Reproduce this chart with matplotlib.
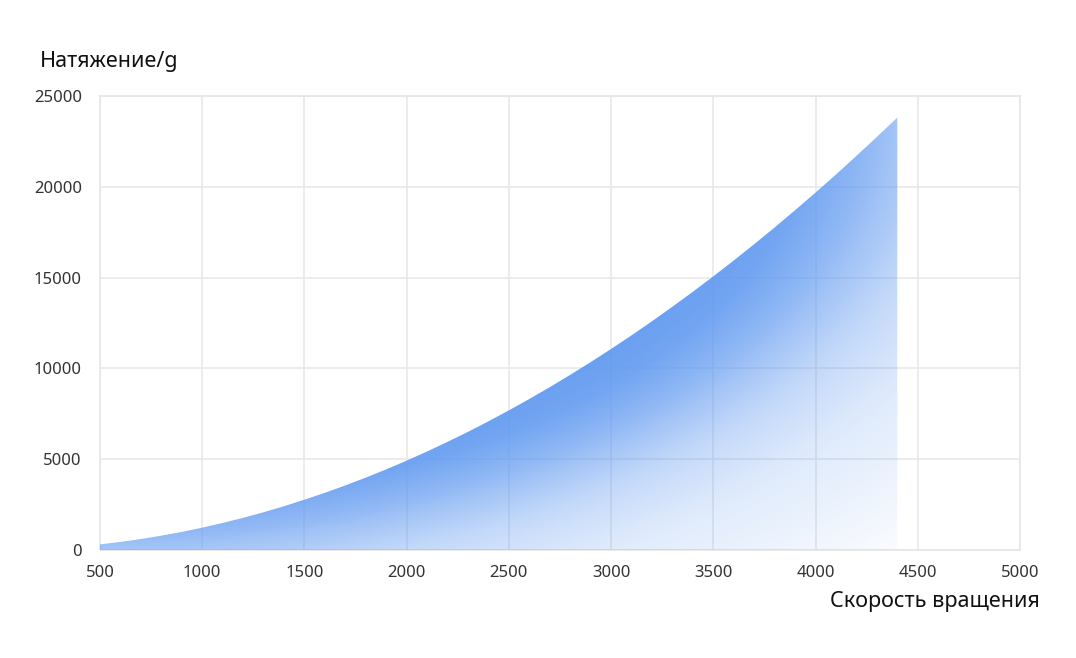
import numpy as np
import matplotlib.pyplot as plt

plt.rcParams['font.family'] = ['Noto Sans', 'DejaVu Sans']

# скорость вращения (об/мин) и натяжение (g)
speed = [500, 600, 700, 800, 900, 1000, 1100, 1200, 1300, 1400,
         1500, 1600, 1700, 1800, 1900, 2000, 2100, 2200, 2300, 2400,
         2500, 2600, 2700, 2800, 2900, 3000, 3100, 3200, 3300, 3400,
         3500, 3600, 3700, 3800, 3900, 4000, 4100, 4200, 4300, 4400]
tension = [310, 445, 605, 790, 995, 1230, 1490, 1770, 2080, 2410,
           2770, 3150, 3555, 3985, 4440, 4920, 5425, 5955, 6505, 7085,
           7690, 8315, 8965, 9645, 10345, 11070, 11820, 12595, 13395, 14220,
           15070, 15940, 16840, 17760, 18710, 19680, 20675, 21700, 22745, 23810]

x_ticks = [500, 1000, 1500, 2000, 2500, 3000, 3500, 4000, 4500, 5000]
y_ticks = [0, 5000, 10000, 15000, 20000, 25000]

fig = plt.figure(figsize=(10.76, 6.58), dpi=100)
ax = fig.add_axes([0.0929, 0.1641, 0.855, 0.69])

ax.set_xlim(500, 5000)
ax.set_ylim(0, 25000)

# градиентная заливка под кривой (эллиптический радиальный градиент от верхнего левого угла)
x0, x1 = min(speed), max(speed)
y0, y1 = 0, max(tension)
nx, ny = 400, 400
gx = np.linspace(x0, x1, nx)
gy = np.linspace(y1, y0, ny)
X, Y = np.meshgrid(gx, gy)
u = (X - x0) / (x1 - x0)
v = (y1 - Y) / (y1 - y0)
r = np.sqrt(u ** 2 + v ** 2)
r_stops = [0.0, 0.84, 0.89, 0.96, 1.0, 1.07, 1.17, 1.25, 1.33, 1.42]
a_stops = [0.94, 0.92, 0.88, 0.70, 0.57, 0.37, 0.21, 0.15, 0.09, 0.03]
alpha = np.interp(r, r_stops, a_stops)
base = np.array([0x5e, 0x98, 0xf0]) / 255.0
img = np.ones((ny, nx, 4))
img[..., :3] = base
img[..., 3] = alpha

poly = ax.fill_between(speed, tension, 0, color='none', lw=0)
im = ax.imshow(img, extent=[x0, x1, y0, y1], aspect='auto', origin='upper',
               interpolation='bilinear', zorder=3)
im.set_clip_path(poly.get_paths()[0], transform=ax.transData)

ax.set_xticks(x_ticks)
ax.set_yticks(y_ticks)
ax.grid(True, color='#e9e9e9', lw=1.2, zorder=1)
ax.set_axisbelow(True)
for s in ax.spines.values():
    s.set_color('#e6e6e6')
    s.set_linewidth(1.2)
ax.tick_params(length=0, labelsize=12, colors='#333333')
ax.tick_params(axis='x', pad=11)
ax.tick_params(axis='y', pad=13)

fig.text(40 / 1076, 1 - 62 / 658, 'Натяжение/g', fontsize=15.5, color='#111111',
         ha='left', va='center')
fig.text(1040 / 1076, 1 - 602 / 658, 'Скорость вращения', fontsize=15.5, color='#111111',
         ha='right', va='center')

fig.savefig('out.png', dpi=100)
